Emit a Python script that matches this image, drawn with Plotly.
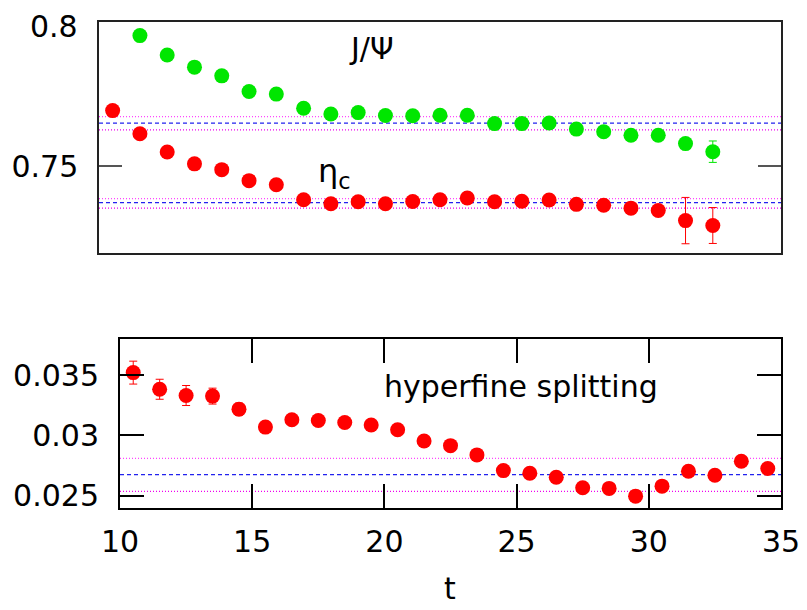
import plotly.graph_objects as go

# ---- data ----
t_eta = [10.5 + i for i in range(23)]
eta_c = [0.7693, 0.7613, 0.7550, 0.7509, 0.7489, 0.7451, 0.7437, 0.7385, 0.7371, 0.7378,
         0.7371, 0.7379, 0.7385, 0.7391, 0.7378, 0.7380, 0.7384, 0.7369, 0.7366, 0.7356,
         0.7348, 0.7313, 0.7296]
eta_err = [0.001] * 21 + [0.0080, 0.0062]

t_psi = [11.5 + i for i in range(22)]
jpsi = [0.7952, 0.7885, 0.7843, 0.7813, 0.7759, 0.7750, 0.7701, 0.7681, 0.7686, 0.7676,
        0.7675, 0.7677, 0.7677, 0.7648, 0.7648, 0.7650, 0.7629, 0.7620, 0.7608, 0.7608,
        0.7579, 0.7551]
jpsi_err = [0.001] * 21 + [0.0037]

t_hfs = [10.5 + i for i in range(25)]
hfs = [0.03521, 0.03383, 0.03331, 0.03326, 0.03218, 0.03069, 0.03130, 0.03124, 0.03107, 0.03086,
       0.03047, 0.02954, 0.02915, 0.02838, 0.02708, 0.02686, 0.02653, 0.02565, 0.02560, 0.02496,
       0.02579, 0.02702, 0.02669, 0.02785, 0.02725]
hfs_err = [0.00095, 0.00083, 0.00083, 0.00066, 0.0005] + [0.0004] * 20

psi_band = [0.76724, 0.76497, 0.76266]   # upper, central, lower
eta_band = [0.73886, 0.73748, 0.73563]
hfs_band = [0.02810, 0.02675, 0.02536]

x_range = [10, 35]
x_ticks = [10, 15, 20, 25, 30, 35]
top_yticks = [0.75, 0.8]
top_yticklabels = ["0.75", "0.8"]
bot_yticks = [0.025, 0.03, 0.035]
bot_yticklabels = ["0.025", "0.03", "0.035"]

RED = "#ff0000"
GREEN = "#00e600"
FONT = "DejaVu Sans, Liberation Sans, Arial, sans-serif"

fig = go.Figure()

def band_shapes(vals, xref, yref):
    out = []
    styles = [("#ff44ff", "1px,2px"), ("#2222ee", "4px,3px"), ("#ee00ee", "1px,2px")]
    for v, (c, d) in zip(vals, styles):
        out.append(dict(type="line", xref=xref, yref=yref, x0=0, x1=1, y0=v, y1=v,
                        line=dict(color=c, width=1.2, dash=d), layer="below"))
    return out

fig.add_trace(go.Scatter(x=t_eta, y=eta_c, mode="markers", xaxis="x", yaxis="y",
                         marker=dict(color=RED, size=15),
                         error_y=dict(type="data", array=eta_err, color=RED, thickness=1, width=4),
                         showlegend=False))
fig.add_trace(go.Scatter(x=t_psi, y=jpsi, mode="markers", xaxis="x", yaxis="y",
                         marker=dict(color=GREEN, size=15),
                         error_y=dict(type="data", array=jpsi_err, color=GREEN, thickness=1, width=4),
                         showlegend=False))
fig.add_trace(go.Scatter(x=t_hfs, y=hfs, mode="markers", xaxis="x2", yaxis="y2",
                         marker=dict(color=RED, size=15),
                         error_y=dict(type="data", array=hfs_err, color=RED, thickness=1, width=4),
                         showlegend=False))

shapes = band_shapes(psi_band, "x domain", "y") + band_shapes(eta_band, "x domain", "y") \
    + band_shapes(hfs_band, "x2 domain", "y2")

W, H = 807, 610
OFF = 8  # page body margin offset
def px_x(a):
    return (a - OFF) / W
def px_y(a):
    return (H - (a - OFF)) / H
def dx(a, b):
    return [px_x(a), px_x(b)]
def dy(top, bottom):
    return [px_y(bottom), px_y(top)]

tickfont = dict(family=FONT, size=30, color="black")

fig.update_layout(
    template="none",
    width=W, height=H, margin=dict(l=0, r=0, t=0, b=0, pad=0),
    paper_bgcolor="white", plot_bgcolor="white",
    shapes=shapes,
    xaxis=dict(domain=dx(99, 781), range=x_range, showticklabels=False, ticks="",
               showgrid=False, zeroline=False, showline=True, mirror=True,
               linecolor="#222222", linewidth=1.5, automargin=False),
    # the 0.8 tick coincides with the top border; its label is drawn as an annotation
    yaxis=dict(domain=dy(21.7, 253.3), range=[0.72, 0.8], tickvals=top_yticks[:1],
               ticktext=top_yticklabels[:1], ticks="inside", ticklen=23, tickwidth=1.5,
               tickcolor="#555555", showgrid=False, zeroline=False, showline=True,
               mirror="ticks", linecolor="#222222", linewidth=1.5, automargin=False,
               tickfont=tickfont, ticklabelstandoff=13),
    xaxis2=dict(domain=dx(120, 781), range=x_range, tickvals=x_ticks, ticks="inside",
                ticklen=24, tickwidth=1.5, tickcolor="black", showgrid=False, zeroline=False,
                showline=True, mirror="ticks", linecolor="black", linewidth=2, automargin=False,
                anchor="y2", tickfont=tickfont, ticklabelstandoff=6, ticklabeloverflow="allow"),
    yaxis2=dict(domain=dy(339, 507.7), range=[0.024, 0.038], tickvals=bot_yticks,
                ticktext=bot_yticklabels, ticks="inside", ticklen=24, tickwidth=1.5,
                tickcolor="black", showgrid=False, zeroline=False, showline=True,
                mirror="ticks", linecolor="black", linewidth=2, anchor="x2", automargin=False,
                tickfont=tickfont, ticklabelstandoff=13, ticklabeloverflow="allow"),
    annotations=[
        dict(text=top_yticklabels[1], x=px_x(79), y=1, xref="paper", yref="paper",
             xanchor="right", yanchor="top", showarrow=False, borderpad=0,
             font=dict(family=FONT, size=30, color="black")),
        dict(text="J/Ψ", x=20.0, y=0.7908, xref="x", yref="y", showarrow=False,
             font=dict(family=FONT, size=30, color="black")),
        dict(text="η<sub>c</sub>", x=18.65, y=0.7478, xref="x", yref="y", showarrow=False,
             font=dict(family=FONT, size=32, color="black")),
        dict(text="hyperfine splitting", x=25.15, y=0.0341, xref="x2", yref="y2",
             showarrow=False, font=dict(family=FONT, size=30, color="black")),
        dict(text="t", x=px_x(450), y=px_y(608), xref="paper", yref="paper",
             showarrow=False, font=dict(family=FONT, size=30, color="black")),
    ],
)

fig.write_html("out.html")
